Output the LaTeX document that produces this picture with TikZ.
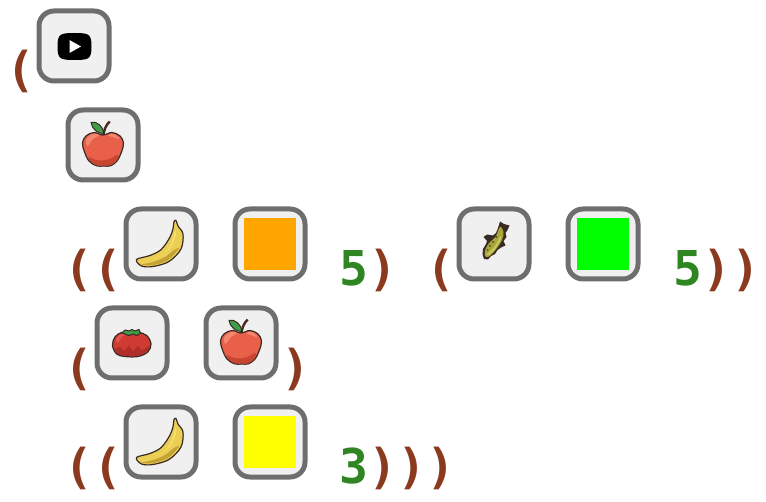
\documentclass[tikz,border=0pt]{standalone}
\usepackage{fontspec}
\setmonofont{DejaVu Sans Mono}
\begin{document}
\begin{tikzpicture}[x=1pt,y=-1pt,
  tile/.style={draw=tilegray,fill=tilefill,line width=5pt,rounded corners=15pt,minimum size=70pt,inner sep=0pt,outer sep=0pt},
  swatch/.style={minimum size=52pt,inner sep=0pt,outer sep=0pt,draw=none},
  tok/.style={font=\fontsize{48pt}{48pt}\selectfont\ttfamily\bfseries,inner sep=0pt,outer sep=0pt,anchor=base},
  brk/.style={tok,text=brk},
  num/.style={tok,text=numc},
  pix/.style={draw=pixdark,line width=1.2pt,line join=round},
  apple/.pic={
    \draw[draw=applestem,line width=2.4pt] (0.5,-10) .. controls (1,-15) and (3,-20) .. (6.7,-23.5);
    \draw[pix,fill=leafg,line width=1pt] (-12,-22.5) .. controls (-6,-24.5) and (0.5,-18) .. (1,-11.5) .. controls (-5,-11) and (-11,-16) .. cycle;
    \draw[pix,fill=applered] plot[smooth cycle,tension=.6] coordinates {(0,-10) (-9,-12.5) (-17,-9) (-20.5,-2) (-18.5,7) (-14,16) (-6.5,20.8) (0.5,21) (7.5,20.8) (14,16) (18.5,7) (20.5,-2) (17,-9) (9,-12.5)};
    \fill[appledeep] plot[smooth cycle,tension=.6] coordinates {(-14.5,12) (-5,15.5) (5,14.5) (14.5,10) (13.5,15.5) (7.5,20.2) (0.5,20.4) (-6.5,20.2) (-13,15.5)};
    \fill[applelight] plot[smooth cycle,tension=.6] coordinates {(-16.5,-6) (-10,-11.2) (-4,-9.8) (-10,-6) (-15.5,1)};
    \fill[applelight] plot[smooth cycle,tension=.6] coordinates {(5,-9.8) (11,-11) (16.5,-6) (11,-7.5)};
  },
  banana/.pic={
    \draw[pix,fill=bananay] plot[smooth cycle,tension=.55] coordinates {(15,-23.5) (17,-18) (22,-10) (20,5) (8,17.5) (-8,22.5) (-19.5,22) (-24.5,15.5) (-11,11.5) (0.2,5.5) (8.5,-6) (12,-15) (13,-22.5)};
    \fill[bananadeep] plot[smooth cycle,tension=.55] coordinates {(-20,20.8) (-8,21.2) (7,16) (18,4.5) (13,6) (4,13) (-8,18)};
    \fill[bananalight] plot[smooth cycle,tension=.55] coordinates {(-6,14) (4,9) (11,-2) (14,-13) (15,-9) (10,3) (2,10.5)};
  },
  fish/.pic={
    \fill[pixdark] (6,-22.5) -- (10,-20) -- (15.5,-18.5) -- (13.5,-14) -- (11.5,-11) -- (12.5,-7) -- (9.5,-3) -- (11.5,1.5) -- (7,3.5) -- (3.5,6) -- (1,10) -- (-3,12) -- (-6,15.5) -- (-10,15) -- (-11.5,10.5) -- (-11,5) -- (-8,0) -- (-7,-3) -- (-10.5,-7) -- (-7,-9.5) -- (-1,-8.5) -- (2,-11) -- (4,-16) -- cycle;
    \fill[fishbody] plot[smooth cycle,tension=.6] coordinates {(6,-17) (9.5,-12) (8,-4) (1.5,6) (-5,12.5) (-9,12) (-8.5,5) (-4,-2) (1.5,-7)};
    \fill[pixdark!70!fishbody] (2.5,-7) circle (1.2) (-1,-2) circle (1.2) (-4,2) circle (1.2) (-6.5,6) circle (1);
    \fill[fishlight] plot[smooth cycle,tension=.6] coordinates {(-7,10) (-1,4.5) (4,-3) (6.5,-8) (6.5,-4) (0.5,6) (-5,11)};
  },
  tomato/.pic={
    \draw[pix,fill=tomred] plot[smooth cycle,tension=.6] coordinates {(-10,-10.7) (-17,-6) (-19.5,2.5) (-15.3,11) (-7,13.5) (6,13.5) (15.7,9) (19,1) (14.7,-7.5) (6,-10.7) (-2,-9.5)};
    \fill[tomdeep] plot[smooth cycle,tension=.6] coordinates {(-17,6) (-12,4) (-8,8) (-3,3) (1,8) (6,3) (10,7) (17,3) (15,8) (6,12.7) (-7,12.7) (-14,10.5)};
    \fill[tomlight] plot[smooth cycle,tension=.6] coordinates {(-16,-3) (-13,-8) (-7,-9) (-11,-5) (-14,0)};
    \draw[pix,fill=leafg,line width=1pt] (-10,-10) -- (-7,-13) -- (-3,-12) -- (0,-13.5) -- (3,-12) -- (7,-13.5) -- (8.5,-10) -- (5,-7.5) -- (1,-9) -- (-3,-7.5) -- (-7,-9) -- cycle;
  },
  ytube/.pic={
    \fill[black] (-16.5,0.5) .. controls (-16.5,-12) and (-14,-13) .. (0.5,-13) .. controls (15,-13) and (17.5,-12) .. (17.5,0.5) .. controls (17.5,13) and (15,14) .. (0.5,14) .. controls (-14,14) and (-16.5,13) .. (-16.5,0.5) -- cycle;
    \fill[white] (-4.5,-6) -- (7,0.5) -- (-4.5,7) -- cycle;
  }
]
\definecolor{tilegray}{HTML}{6E6E6E}
\definecolor{tilefill}{HTML}{F0F0F0}
\definecolor{brk}{HTML}{8B3A20}
\definecolor{numc}{HTML}{2E8522}
\definecolor{pixdark}{HTML}{3A2A24}
\definecolor{applestem}{HTML}{4A2A20}
\definecolor{leafg}{HTML}{3E9E4A}
\definecolor{applered}{HTML}{E8604A}
\definecolor{appledeep}{HTML}{C9452F}
\definecolor{applelight}{HTML}{F2866E}
\definecolor{bananay}{HTML}{EBCF55}
\definecolor{bananadeep}{HTML}{C4A236}
\definecolor{bananalight}{HTML}{F4E070}
\definecolor{fishbody}{HTML}{A8A63A}
\definecolor{fishlight}{HTML}{C8C85A}
\definecolor{tomred}{HTML}{CF3A32}
\definecolor{tomdeep}{HTML}{B02E2A}
\definecolor{tomlight}{HTML}{E0564E}
\useasboundingbox (0,0) rectangle (766,502);

\node[tile] (t1) at (74,46) {};
\node[tile] (t2) at (103,145) {};
\node[tile] (t3) at (161,244) {};
\node[tile] (t4) at (270,244) {};
\node[tile] (t5) at (494,244) {};
\node[tile] (t6) at (603,244) {};
\node[tile] (t7) at (132,343) {};
\node[tile] (t8) at (241,343) {};
\node[tile] (t9) at (161,442) {};
\node[tile] (t10) at (270,442) {};

\pic at (t1) {ytube};
\pic at (t2) {apple};
\pic at (t3) {banana};
\node[swatch,fill={rgb,255:red,255;green,165;blue,0}] (s1) at (t4) {};
\pic at (t5) {fish};
\node[swatch,fill={rgb,255:red,0;green,255;blue,0}] (s2) at (t6) {};
\pic at (t7) {tomato};
\pic at (t8) {apple};
\pic at (t9) {banana};
\node[swatch,fill={rgb,255:red,255;green,255;blue,0}] (s3) at (t10) {};

\node[brk] (p1) at (21,86.5) {(};
\node[brk] (p2) at (79,285.5) {(};
\node[brk] (p3) at (108,285.5) {(};
\node[num] (n1) at (354,285.5) {5};
\node[brk] (p4) at (382.5,285.5) {)};
\node[brk] (p5) at (440.5,285.5) {(};
\node[num] (n2) at (688,285.5) {5};
\node[brk] (p6) at (716.5,285.5) {)};
\node[brk] (p7) at (745.5,285.5) {)};
\node[brk] (p8) at (79,384.5) {(};
\node[brk] (p9) at (295.5,384.5) {)};
\node[brk] (p10) at (79,483.5) {(};
\node[brk] (p11) at (108,483.5) {(};
\node[num] (n3) at (354,483.5) {3};
\node[brk] (p12) at (382.5,483.5) {)};
\node[brk] (p13) at (411.5,483.5) {)};
\node[brk] (p14) at (440.5,483.5) {)};
\end{tikzpicture}
\end{document}
